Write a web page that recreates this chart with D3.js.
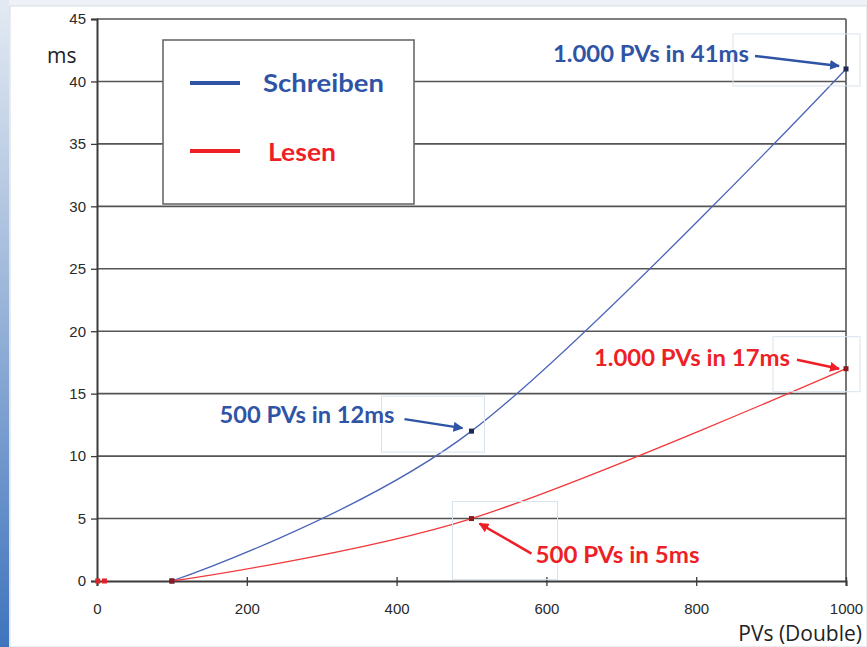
<!DOCTYPE html>
<html>
<head>
<meta charset="utf-8">
<script src="https://cdn.jsdelivr.net/npm/d3@7"></script>
<style>
  html, body { margin: 0; padding: 0; background: #eef2f7; }
  svg { display: block; }
</style>
</head>
<body>
<svg id="chart" width="867" height="647"></svg>
<script>
// Messwerte: Anzahl PVs (Double) und Zeit in ms
const pvCounts = [100, 500, 1000];
const schreibenMs = [0, 12, 41];
const lesenMs = [0, 5, 17];
// kleine Messpunkte nahe Null (beide Reihen bei 0 ms)
const startPVs = [1, 10];
const startMs = [0, 0];

const xTicks = [0, 200, 400, 600, 800, 1000];
const yTicks = [0, 5, 10, 15, 20, 25, 30, 35, 40, 45];

const seriesNames = ["Schreiben", "Lesen"];
const seriesColors = ["#2f54a6", "#ee1f27"];
const lineColors = ["#4a64b8", "#f2383c"];
const markerColors = ["#1c2a55", "#8c1a1e"];

const svg = d3.select("#chart");
const W = 867, H = 647;

// Hintergrund: Folienrand links, weisse Flaeche
const defs = svg.append("defs");
const grad = defs.append("linearGradient").attr("id", "sideGrad")
  .attr("x1", 0).attr("y1", 0).attr("x2", 0).attr("y2", 1);
grad.append("stop").attr("offset", "0%").attr("stop-color", "#e3eaf3");
grad.append("stop").attr("offset", "35%").attr("stop-color", "#aec3df");
grad.append("stop").attr("offset", "100%").attr("stop-color", "#3f74bd");

svg.append("rect").attr("width", W).attr("height", H).attr("fill", "#eef2f7");
svg.append("rect").attr("x", 0).attr("y", 0).attr("width", 9).attr("height", H).attr("fill", "url(#sideGrad)");
svg.append("rect").attr("x", 10).attr("y", 6).attr("width", W - 10).attr("height", H - 6)
  .attr("fill", "#ffffff").attr("stroke", "#d6dbe2").attr("stroke-width", 1);

const x = d3.scaleLinear().domain([0, 1000]).range([97, 846]);
const y = d3.scaleLinear().domain([0, 45]).range([581, 19]);

// Gitterlinien
svg.append("g").selectAll("line").data(yTicks.filter(d => d > 0)).join("line")
  .attr("x1", x(0)).attr("x2", x(1000))
  .attr("y1", d => y(d)).attr("y2", d => y(d))
  .attr("stroke", "#555").attr("stroke-width", 1.6);

// rechter Rahmen
svg.append("line").attr("x1", x(1000)).attr("x2", x(1000)).attr("y1", y(45)).attr("y2", y(0))
  .attr("stroke", "#555").attr("stroke-width", 1.6);

// Achsen
const xAxis = d3.axisBottom(x).tickValues(xTicks).tickSize(5).tickPadding(17).tickFormat(d3.format("d"));
const yAxis = d3.axisLeft(y).tickValues(yTicks).tickSize(6).tickPadding(5).tickFormat(d3.format("d"));

const gx = svg.append("g").attr("transform", `translate(0,${y(0)})`).call(xAxis);
const gy = svg.append("g").attr("transform", `translate(${x(0)},0)`).call(yAxis);

[gx, gy].forEach(g => {
  g.select(".domain").attr("stroke", "#3a3a3a").attr("stroke-width", 2);
  g.selectAll(".tick line").attr("stroke", "#3a3a3a").attr("stroke-width", 1.3);
  g.selectAll(".tick text").attr("fill", "#2a2a2a")
    .style("font-family", "'Liberation Sans', Arial, sans-serif").style("font-size", "15px");
});
gx.selectAll(".tick line").attr("y1", -4);

// Achsentitel
svg.append("text").attr("x", 47).attr("y", 63).text("ms")
  .attr("fill", "#222").style("font-family", "'Open Sans', sans-serif").style("font-size", "21px");
svg.append("text").attr("x", 862).attr("y", 641).attr("text-anchor", "end").text("PVs (Double)")
  .attr("fill", "#222").style("font-family", "'Open Sans', sans-serif").style("font-size", "21px");

// Kurven
const series = [schreibenMs, lesenMs].map((vals, i) => ({
  name: seriesNames[i],
  pts: pvCounts.map((p, j) => ({ pv: p, ms: vals[j] }))
}));

const line = d3.line().x(d => x(d.pv)).y(d => y(d.ms)).curve(d3.curveCatmullRom.alpha(0));

svg.append("g").selectAll("path").data(series).join("path")
  .attr("d", d => line(d.pts))
  .attr("fill", "none")
  .attr("stroke", (d, i) => lineColors[i])
  .attr("stroke-width", 1.3);

// Messpunkte
series.forEach((s, i) => {
  svg.append("g").selectAll("rect").data(s.pts).join("rect")
    .attr("x", d => x(d.pv) - 2.5).attr("y", d => y(d.ms) - 2.5)
    .attr("width", 5).attr("height", 5)
    .attr("fill", markerColors[i]);
});
svg.append("g").selectAll("rect").data(startPVs.map((p, j) => ({ pv: p, ms: startMs[j] }))).join("rect")
  .attr("x", d => x(d.pv) - 2.5).attr("y", d => y(d.ms) - 2.5)
  .attr("width", 5).attr("height", 5)
  .attr("fill", "#e2222a");

// Legende
const leg = svg.append("g");
leg.append("rect").attr("x", 163).attr("y", 40).attr("width", 251).attr("height", 164)
  .attr("fill", "#fff").attr("stroke", "#6a6a6a").attr("stroke-width", 1.6);
const legRows = [{ y: 83, tx: 263, ty: 92, w: 121 }, { y: 151, tx: 268, ty: 161, w: 68 }];
legRows.forEach((r, i) => {
  leg.append("line").attr("x1", 190).attr("x2", 240).attr("y1", r.y).attr("y2", r.y)
    .attr("stroke", seriesColors[i]).attr("stroke-width", 4);
  leg.append("text").attr("x", r.tx).attr("y", r.ty).text(seriesNames[i])
    .attr("fill", seriesColors[i]).attr("textLength", r.w).attr("lengthAdjust", "spacingAndGlyphs")
    .style("font-family", "Lato, sans-serif").style("font-weight", "bold").style("font-size", "25px");
});

// Beschriftungen mit Pfeilen
seriesColors.forEach((c, i) => {
  defs.append("marker").attr("id", "arrow" + i)
    .attr("viewBox", "0 0 10 10").attr("refX", 9).attr("refY", 5)
    .attr("markerWidth", 4).attr("markerHeight", 4).attr("orient", "auto")
    .append("path").attr("d", "M0,0 L10,5 L0,10 Z").attr("fill", c);
});

const fmtPV = n => d3.format(",")(n).replace(/,/g, ".");
const notes = [
  { s: 0, j: 1, box: [-90, -35, 103, 56], tx: -77, ty: -8, anchor: "end", w: 175, a: [-67, -12, -9, -3] },
  { s: 0, j: 2, box: [-113, -35, 127, 52], tx: -97, ty: -7, anchor: "end", w: 196, a: [-91, -13, -7, -3] },
  { s: 1, j: 1, box: [-19, -17, 105, 78], tx: 64, ty: 44, anchor: "start", w: 164, a: [60, 35, 8, 5] },
  { s: 1, j: 2, box: [-73, -32, 87, 55], tx: -56, ty: -3, anchor: "end", w: 196, a: [-49, -9, -7, 0] }
];
const ng = svg.append("g");
notes.forEach(n => {
  const pv = pvCounts[n.j];
  const ms = [schreibenMs, lesenMs][n.s][n.j];
  const px = x(pv), py = y(ms);
  ng.append("rect").attr("x", px + n.box[0]).attr("y", py + n.box[1])
    .attr("width", n.box[2]).attr("height", n.box[3])
    .attr("fill", "none").attr("stroke", "#d9e3ee").attr("stroke-width", 1);
  ng.append("text").attr("x", px + n.tx).attr("y", py + n.ty)
    .attr("text-anchor", n.anchor)
    .text(`${fmtPV(pv)} PVs in ${ms}ms`)
    .attr("fill", seriesColors[n.s])
    .attr("textLength", n.w).attr("lengthAdjust", "spacingAndGlyphs")
    .style("font-family", "Lato, sans-serif").style("font-weight", "bold").style("font-size", "22px");
  ng.append("line").attr("x1", px + n.a[0]).attr("y1", py + n.a[1])
    .attr("x2", px + n.a[2]).attr("y2", py + n.a[3])
    .attr("stroke", seriesColors[n.s]).attr("stroke-width", 2.5)
    .attr("marker-end", `url(#arrow${n.s})`);
});
</script>
</body>
</html>
